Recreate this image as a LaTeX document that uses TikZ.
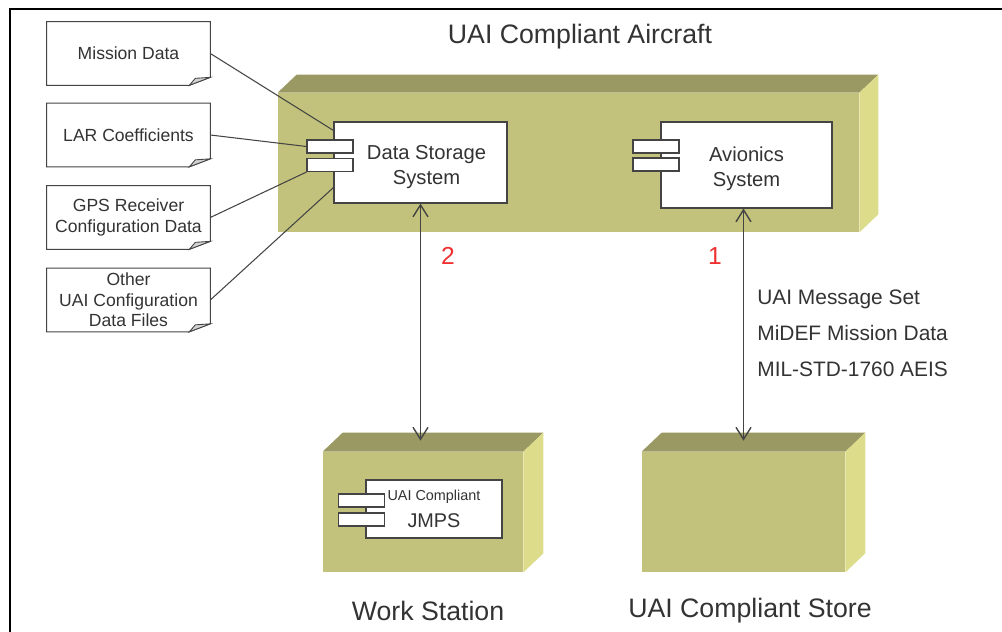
\documentclass[tikz,border=0pt]{standalone}
\usepackage{fontspec}
\setmainfont{Liberation Sans}
\usetikzlibrary{fit,arrows.meta}
\definecolor{boxfront}{RGB}{194,194,125}
\definecolor{boxtop}{RGB}{154,153,99}
\definecolor{boxside}{RGB}{221,220,139}
\definecolor{inkgray}{RGB}{51,51,51}
\definecolor{linegray}{RGB}{68,68,68}
\definecolor{numred}{RGB}{238,48,48}
\tikzset{
	front/.style={fill=boxfront, inner sep=0pt},
	component/.style={draw=linegray, fill=white, line width=0.6pt, inner sep=0pt, align=center, text=inkgray, font=\fontsize{11.5}{14.2}\selectfont},
	comptext/.style={inner sep=0pt, align=center, text=inkgray, font=\fontsize{11.5}{14.2}\selectfont},
	port/.style={draw=linegray, fill=white, line width=0.6pt, minimum width=0.92cm, minimum height=0.26cm, inner sep=0pt},
	doc/.style={fill=white, minimum width=3.26cm, minimum height=1.26cm, inner sep=1pt, align=center, text=inkgray, font=\fontsize{10}{11.6}\selectfont},
	docline/.style={draw=linegray, line width=0.5pt},
	link/.style={linegray, line width=0.6pt},
	flow/.style={linegray, line width=0.8pt, {Straight Barb[length=0.24cm,width=0.3cm]}-{Straight Barb[length=0.24cm,width=0.3cm]}},
	caption/.style={text=inkgray, font=\fontsize{15.2}{18}\selectfont},
	num/.style={text=numred, font=\fontsize{14}{16}\selectfont}
}
\begin{document}
\begin{tikzpicture}[x=0.02cm,y=-0.02cm]
	\useasboundingbox (0,0) rectangle (1002,632);
	\draw[line width=1.7pt] (10,632) -- (10,9) -- (1002,9);
	% nodes
	\node[front, fit={(278,93) (859,232)}] (aircraft) {};
	\node[front, fit={(323,452) (523,572)}] (ws) {};
	\node[front, fit={(642,452) (845,572)}] (store) {};
	\foreach \n/\dx/\dy in {aircraft/19/-18, ws/20/-19, store/20/-19} {
		\fill[boxtop] (\n.north west) -- ++(\dx,\dy) -- ([shift={(\dx,\dy)}]\n.north east) -- (\n.north east) -- cycle;
		\fill[boxside] (\n.north east) -- ++(\dx,\dy) -- ([shift={(\dx,\dy)}]\n.south east) -- (\n.south east) -- cycle;
	}
	\node[caption] (title) at (580,37) {UAI Compliant Aircraft};
	\node[caption] (wslabel) at (428,611) {Work Station};
	\node[caption] (storelabel) at (750,611) {UAI Compliant Store};
	% components
	\node[component, minimum width=3.46cm, minimum height=1.62cm] (ds) at (420.5,162.5) {};
	\node[comptext] (dstext) at ([shift={(6,5)}]ds.center) {Data Storage\\System};
	\node[component, minimum width=3.42cm, minimum height=1.72cm] (av) at (746.5,165) {};
	\node[comptext] (avtext) at ([shift={(0,4)}]av.center) {Avionics\\System};
	\node[component, minimum width=2.72cm, minimum height=1.16cm] (jmps) at (434,509) {{\fontsize{8.2}{9.5}\selectfont UAI Compliant}\\[1pt]{\fontsize{11.3}{13}\selectfont JMPS}};
	\node[port] (ds1) at (330,146.5) {};
	\node[port] (ds2) at (330,165) {};
	\node[port] (av1) at (656,146.5) {};
	\node[port] (av2) at (656,164.5) {};
	\node[port] (jm1) at (361.5,500.5) {};
	\node[port] (jm2) at (361.5,519.5) {};
	% data files
	\node[doc] (mission) at (128.5,53.5) {Mission Data};
	\node[doc] (lar) at (128.5,135) {LAR Coefficients};
	\node[doc] (gps) at (128.5,217.5) {GPS Receiver\\Configuration Data};
	\node[doc] (other) at (128.5,300) {Other\\UAI Configuration\\Data Files};
	\foreach \d in {mission,lar,gps,other} {
		\draw[docline] (\d.south west) -- (\d.north west) -- (\d.north east) -- ([shift={(0,-8)}]\d.south east) -- ([shift={(-21,0)}]\d.south east) -- cycle;
		\filldraw[docline, fill=gray!35] ([shift={(-21,0)}]\d.south east) -- ([shift={(-15,-7)}]\d.south east) -- ([shift={(0,-8)}]\d.south east) -- cycle;
	}
	\draw[link] (mission.east) -- ([shift={(0,9)}]ds.north west);
	\draw[link] (lar.east) -- (ds1.west);
	\draw[link] (gps.east) -- (ds2.south west);
	\draw[link] (other.east) -- ([shift={(0,-16)}]ds.south west);
	% interfaces
	\coordinate (wstop) at ([shift={(0,-11)}]ws.north);
	\coordinate (storetop) at ([shift={(0,-11)}]store.north);
	\draw[flow] (ds.south) -- (ds.south |- wstop);
	\draw[flow] (av.south -| storetop) -- (storetop);
	\node[num] (n2) at (448,256) {2};
	\node[num] (n1) at (715,256) {1};
	\node[anchor=west, inner sep=0pt, align=left, text=inkgray, font=\fontsize{11.9}{20.4}\selectfont] (msg) at (757,333) {UAI Message Set\\MiDEF Mission Data\\MIL-STD-1760 AEIS};
\end{tikzpicture}
\end{document}
